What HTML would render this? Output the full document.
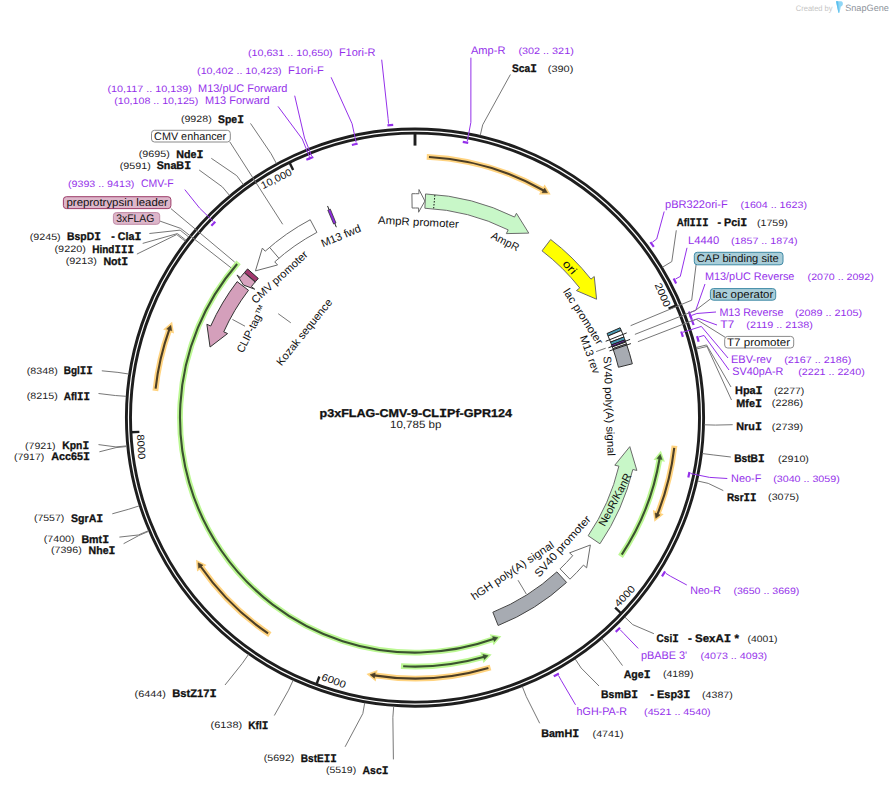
<!DOCTYPE html>
<html><head><meta charset="utf-8"><style>
html,body{margin:0;padding:0;background:#fff;}
svg{display:block;}
text{font-family:"Liberation Sans", sans-serif;text-rendering:geometricPrecision;}
.mi{font-family:"Liberation Mono", monospace;font-size:1.08em;}
</style></head><body>
<svg width="893" height="786" viewBox="0 0 893 786">
<rect width="893" height="786" fill="#fff"/>
<circle cx="415.0" cy="417.6" r="288.6" fill="none" stroke="#1e1e1e" stroke-width="2.9"/>
<circle cx="415.0" cy="417.6" r="284.5" fill="none" stroke="#1e1e1e" stroke-width="2.9"/>
<path d="M415.00,133.10 L415.00,145.60" stroke="#1e1e1e" stroke-width="2.9"/>
<path d="M676.41,305.34 L668.60,308.69" stroke="#1e1e1e" stroke-width="2.4"/>
<path d="M621.30,613.50 L615.14,607.65" stroke="#1e1e1e" stroke-width="2.4"/>
<path d="M316.40,684.47 L319.34,676.49" stroke="#1e1e1e" stroke-width="2.4"/>
<path d="M130.88,432.30 L139.37,431.86" stroke="#1e1e1e" stroke-width="2.4"/>
<path d="M289.38,162.34 L293.13,169.96" stroke="#1e1e1e" stroke-width="2.4"/>
<text transform="rotate(66.759 415.0 417.6)" x="412.50" y="145.10" text-anchor="end" font-size="10.2" fill="#111" textLength="25" lengthAdjust="spacingAndGlyphs">2000</text>
<text transform="rotate(-46.481 415.0 417.6)" x="417.50" y="696.10" text-anchor="start" font-size="10.2" fill="#111" textLength="25" lengthAdjust="spacingAndGlyphs">4000</text>
<text transform="rotate(20.278 415.0 417.6)" x="417.50" y="696.10" text-anchor="start" font-size="10.2" fill="#111" textLength="25" lengthAdjust="spacingAndGlyphs">6000</text>
<text transform="rotate(87.038 415.0 417.6)" x="417.50" y="696.10" text-anchor="start" font-size="10.2" fill="#111" textLength="25" lengthAdjust="spacingAndGlyphs">8000</text>
<text transform="rotate(333.797 415.0 417.6)" x="412.50" y="145.60" text-anchor="end" font-size="10.2" fill="#111" textLength="33" lengthAdjust="spacingAndGlyphs">10,000</text>
<path d="M411.91,193.72 A223.90,223.90 0 0 1 418.91,193.73 L418.98,189.53 L424.91,201.08 L418.58,212.23 L418.66,208.03 A209.60,209.60 0 0 0 412.11,208.02 Z" fill="#ffffff" stroke="#6b6b6b" stroke-width="1.0" stroke-linejoin="miter"/>
<path d="M425.55,193.95 A223.90,223.90 0 0 1 514.55,217.05 L516.42,213.29 L528.77,233.11 L506.33,233.62 L508.20,229.86 A209.60,209.60 0 0 0 424.87,208.23 Z" fill="#c8f7c8" stroke="#6b6b6b" stroke-width="1.0" stroke-linejoin="miter"/>
<path d="M434.86,195.08 L433.68,208.33" stroke="#111" stroke-width="1" stroke-dasharray="1.5,1.5"/>
<path d="M550.68,239.49 A223.90,223.90 0 0 1 590.95,279.14 L594.25,276.54 L596.58,299.23 L576.42,290.58 L579.72,287.98 A209.60,209.60 0 0 0 542.02,250.87 Z" fill="#ffff00" stroke="#6b6b6b" stroke-width="1.0" stroke-linejoin="miter"/>
<path d="M620.10,327.78 A223.90,223.90 0 0 1 621.25,330.48 L608.08,336.04 A209.60,209.60 0 0 0 607.00,333.52 Z" fill="#4a9ab4" stroke="#222" stroke-width="1.0"/>
<path d="M621.25,330.48 A223.90,223.90 0 0 1 623.89,337.00 L610.55,342.14 A209.60,209.60 0 0 0 608.08,336.04 Z" fill="#ffffff" stroke="#222" stroke-width="1.0"/>
<path d="M623.89,337.00 A223.90,223.90 0 0 1 624.99,339.92 L611.58,344.88 A209.60,209.60 0 0 0 610.55,342.14 Z" fill="#4a9ab4" stroke="#222" stroke-width="1.0"/>
<path d="M624.99,339.92 A223.90,223.90 0 0 1 625.80,342.12 L612.33,346.94 A209.60,209.60 0 0 0 611.58,344.88 Z" fill="#8e2be0" stroke="#222" stroke-width="1.0"/>
<path d="M625.80,342.12 A223.90,223.90 0 0 1 626.45,343.97 L612.94,348.67 A209.60,209.60 0 0 0 612.33,346.94 Z" fill="#ffffff" stroke="#222" stroke-width="1.0"/>
<path d="M626.45,343.97 A223.90,223.90 0 0 1 632.34,363.81 L618.46,367.25 A209.60,209.60 0 0 0 612.94,348.67 Z" fill="#a7abb2" stroke="#333" stroke-width="1.0"/>
<path d="M599.96,543.77 A223.90,223.90 0 0 0 632.80,469.49 L636.89,470.46 L629.80,446.64 L614.81,465.20 L618.89,466.17 A209.60,209.60 0 0 1 588.15,535.72 Z" fill="#c8f7c8" stroke="#6b6b6b" stroke-width="1.0" stroke-linejoin="miter"/>
<path d="M569.97,579.20 A223.90,223.90 0 0 0 583.47,565.08 L586.63,567.85 L590.35,545.00 L569.55,552.89 L572.71,555.66 A209.60,209.60 0 0 1 560.07,568.88 Z" fill="#ffffff" stroke="#6b6b6b" stroke-width="1.0" stroke-linejoin="miter"/>
<path d="M566.55,582.41 A223.90,223.90 0 0 1 498.15,625.49 L492.84,612.21 A209.60,209.60 0 0 0 556.87,571.89 Z" fill="#a7abb2" stroke="#444" stroke-width="1.0"/>
<path d="M310.23,219.72 A223.90,223.90 0 0 0 265.18,251.21 L262.37,248.09 L255.45,270.89 L277.56,264.96 L274.75,261.84 A209.60,209.60 0 0 1 316.92,232.36 Z" fill="#ffffff" stroke="#6b6b6b" stroke-width="1.0" stroke-linejoin="miter"/>
<path d="M269.59,247.35 L278.88,258.22" stroke="#6b6b6b" stroke-width="1"/>
<path d="M247.57,268.95 A223.90,223.90 0 0 0 244.49,272.49 L255.38,281.75 A209.60,209.60 0 0 1 258.26,278.44 Z" fill="#a3386f" stroke="#222" stroke-width="1.0"/>
<path d="M244.24,272.78 A223.90,223.90 0 0 0 240.26,277.61 L236.98,274.98 L243.50,285.05 L254.70,289.18 L251.42,286.55 A209.60,209.60 0 0 1 255.14,282.03 Z" fill="#d8a3bf" stroke="#333" stroke-width="1.0" stroke-linejoin="miter"/>
<path d="M237.13,281.61 A223.90,223.90 0 0 0 210.70,326.00 L206.86,324.28 L210.06,347.03 L227.58,333.57 L223.74,331.85 A209.60,209.60 0 0 1 248.49,290.29 Z" fill="#d49fbb" stroke="#333" stroke-width="1.0" stroke-linejoin="miter"/>
<path d="M336.33,227.21 L327.55,205.96" stroke="#222" stroke-width="1"/>
<path d="M330.35,209.13 A225.00,225.00 0 0 0 327.81,210.18 L333.62,224.01 A210.00,210.00 0 0 1 335.99,223.03 Z" fill="#8e2be0" stroke="#333" stroke-width="0.8"/>
<path d="M426.75,156.86 A261.00,261.00 0 0 1 543.33,190.33" fill="none" stroke="#ffd37f" stroke-width="5.8"/>
<path d="M544.66,187.98 L547.49,192.73 L542.00,192.68 Z" fill="#ffd37f" stroke="#ffd37f" stroke-width="3.6" stroke-linejoin="miter"/>
<path d="M428.95,156.97 A261.00,261.00 0 0 1 544.12,190.78" fill="none" stroke="#4c3e26" stroke-width="2.1"/>
<path d="M544.66,187.98 L547.49,192.73 L542.00,192.68 Z" fill="#4c3e26" stroke="#4c3e26" stroke-width="0.5"/>
<path d="M155.37,390.86 A261.00,261.00 0 0 1 169.20,329.83" fill="none" stroke="#ffd37f" stroke-width="5.8"/>
<path d="M166.66,328.92 L170.86,325.32 L171.74,330.74 Z" fill="#ffd37f" stroke="#ffd37f" stroke-width="3.6" stroke-linejoin="miter"/>
<path d="M155.61,388.67 A261.00,261.00 0 0 1 169.51,328.97" fill="none" stroke="#4c3e26" stroke-width="2.1"/>
<path d="M166.66,328.92 L170.86,325.32 L171.74,330.74 Z" fill="#4c3e26" stroke="#4c3e26" stroke-width="0.5"/>
<path d="M269.88,634.54 A261.00,261.00 0 0 1 200.81,566.74" fill="none" stroke="#ffd37f" stroke-width="5.8"/>
<path d="M198.59,568.28 L198.10,562.77 L203.02,565.20 Z" fill="#ffd37f" stroke="#ffd37f" stroke-width="3.6" stroke-linejoin="miter"/>
<path d="M268.06,633.31 A261.00,261.00 0 0 1 200.29,565.99" fill="none" stroke="#4c3e26" stroke-width="2.1"/>
<path d="M198.59,568.28 L198.10,562.77 L203.02,565.20 Z" fill="#4c3e26" stroke="#4c3e26" stroke-width="0.5"/>
<path d="M490.52,667.43 A261.00,261.00 0 0 1 374.84,675.49" fill="none" stroke="#ffd37f" stroke-width="5.8"/>
<path d="M374.43,678.16 L370.10,674.71 L375.26,672.82 Z" fill="#ffd37f" stroke="#ffd37f" stroke-width="3.6" stroke-linejoin="miter"/>
<path d="M488.41,668.06 A261.00,261.00 0 0 1 373.94,675.35" fill="none" stroke="#4c3e26" stroke-width="2.1"/>
<path d="M374.43,678.16 L370.10,674.71 L375.26,672.82 Z" fill="#4c3e26" stroke="#4c3e26" stroke-width="0.5"/>
<path d="M674.48,445.70 A261.00,261.00 0 0 1 657.59,513.90" fill="none" stroke="#ffd37f" stroke-width="5.8"/>
<path d="M660.10,514.89 L655.77,518.34 L655.08,512.90 Z" fill="#ffd37f" stroke="#ffd37f" stroke-width="3.6" stroke-linejoin="miter"/>
<path d="M674.24,447.89 A261.00,261.00 0 0 1 657.25,514.74" fill="none" stroke="#4c3e26" stroke-width="2.1"/>
<path d="M660.10,514.89 L655.77,518.34 L655.08,512.90 Z" fill="#4c3e26" stroke="#4c3e26" stroke-width="0.5"/>
<path d="M238.57,262.36 A235.00,235.00 0 0 0 493.41,639.13" fill="none" stroke="#bcf893" stroke-width="5.8"/>
<path d="M494.31,641.68 L497.92,637.49 L492.51,636.59 Z" fill="#bcf893" stroke="#bcf893" stroke-width="3.6" stroke-linejoin="miter"/>
<path d="M237.13,264.02 A235.00,235.00 0 0 0 494.18,638.86" fill="none" stroke="#3b5230" stroke-width="2.1"/>
<path d="M494.31,641.68 L497.92,637.49 L492.51,636.59 Z" fill="#3b5230" stroke="#3b5230" stroke-width="0.5"/>
<path d="M400.97,666.20 A249.00,249.00 0 0 0 483.56,656.98" fill="none" stroke="#bcf893" stroke-width="5.8"/>
<path d="M484.30,659.57 L488.16,655.61 L482.81,654.38 Z" fill="#bcf893" stroke="#bcf893" stroke-width="3.6" stroke-linejoin="miter"/>
<path d="M403.17,666.32 A249.00,249.00 0 0 0 484.39,656.74" fill="none" stroke="#3b5230" stroke-width="2.1"/>
<path d="M484.30,659.57 L488.16,655.61 L482.81,654.38 Z" fill="#3b5230" stroke="#3b5230" stroke-width="0.5"/>
<path d="M620.53,556.39 A248.00,248.00 0 0 0 659.51,459.06" fill="none" stroke="#bcf893" stroke-width="5.8"/>
<path d="M662.17,459.52 L660.27,454.32 L656.85,458.61 Z" fill="#bcf893" stroke="#bcf893" stroke-width="3.6" stroke-linejoin="miter"/>
<path d="M621.75,554.56 A248.00,248.00 0 0 0 659.65,458.21" fill="none" stroke="#3b5230" stroke-width="2.1"/>
<path d="M662.17,459.52 L660.27,454.32 L656.85,458.61 Z" fill="#3b5230" stroke="#3b5230" stroke-width="0.5"/>
<path d="M250.50,123.40 L271.12,153.78 L276.34,163.35" fill="none" stroke="#777777" stroke-width="1"/>
<path d="M211.30,158.30 L236.75,175.68 L243.21,184.45" fill="none" stroke="#777777" stroke-width="1"/>
<path d="M199.20,170.00 L222.42,186.92 L229.41,195.28" fill="none" stroke="#777777" stroke-width="1"/>
<path d="M149.40,233.50 L180.14,230.14 L188.66,236.94" fill="none" stroke="#777777" stroke-width="1"/>
<path d="M142.70,243.40 L177.43,233.58 L186.05,240.26" fill="none" stroke="#777777" stroke-width="1"/>
<path d="M136.90,254.10 L176.68,234.55 L185.33,241.19" fill="none" stroke="#777777" stroke-width="1"/>
<path d="M101.80,370.80 L117.92,372.39 L128.70,374.03" fill="none" stroke="#777777" stroke-width="1"/>
<path d="M98.50,393.50 L115.31,395.52 L126.18,396.32" fill="none" stroke="#777777" stroke-width="1"/>
<path d="M98.50,444.60 L115.93,446.92 L126.78,445.86" fill="none" stroke="#777777" stroke-width="1"/>
<path d="M99.40,451.80 L116.00,447.62 L126.85,446.53" fill="none" stroke="#777777" stroke-width="1"/>
<path d="M112.30,513.80 L128.80,509.21 L139.19,505.89" fill="none" stroke="#777777" stroke-width="1"/>
<path d="M119.40,537.10 L138.37,534.97 L148.40,530.71" fill="none" stroke="#777777" stroke-width="1"/>
<path d="M123.60,543.70 L138.64,535.61 L148.67,531.33" fill="none" stroke="#777777" stroke-width="1"/>
<path d="M225.00,685.00 L242.22,663.46 L248.48,654.54" fill="none" stroke="#777777" stroke-width="1"/>
<path d="M274.30,715.50 L288.55,690.20 L293.14,680.31" fill="none" stroke="#777777" stroke-width="1"/>
<path d="M345.10,746.80 L362.83,713.54 L364.73,702.80" fill="none" stroke="#777777" stroke-width="1"/>
<path d="M393.40,759.40 L392.87,717.28 L393.68,706.41" fill="none" stroke="#777777" stroke-width="1"/>
<path d="M510.40,74.50 L482.69,124.82 L480.23,135.44" fill="none" stroke="#777777" stroke-width="1"/>
<path d="M676.30,230.30 L671.81,261.55 L662.49,267.21" fill="none" stroke="#777777" stroke-width="1"/>
<path d="M731.00,387.00 L706.58,344.93 L696.00,347.57" fill="none" stroke="#777777" stroke-width="1"/>
<path d="M731.50,400.00 L706.96,346.46 L696.37,349.04" fill="none" stroke="#777777" stroke-width="1"/>
<path d="M732.70,424.70 L715.41,425.08 L704.51,424.81" fill="none" stroke="#777777" stroke-width="1"/>
<path d="M730.80,457.00 L713.17,454.92 L702.36,453.57" fill="none" stroke="#777777" stroke-width="1"/>
<path d="M723.30,490.60 L708.21,483.37 L697.58,480.98" fill="none" stroke="#777777" stroke-width="1"/>
<path d="M653.90,633.70 L632.79,624.65 L624.89,617.14" fill="none" stroke="#777777" stroke-width="1"/>
<path d="M622.50,665.60 L608.85,647.21 L601.82,638.89" fill="none" stroke="#777777" stroke-width="1"/>
<path d="M599.00,686.00 L581.13,668.00 L575.11,658.92" fill="none" stroke="#777777" stroke-width="1"/>
<path d="M539.70,723.30 L526.34,696.71 L522.30,686.59" fill="none" stroke="#777777" stroke-width="1"/>
<path d="M381.70,59.70 L388.08,118.31 L388.56,123.69" fill="none" stroke="#9430ea" stroke-width="1.0"/>
<path d="M387.42,125.30 A293.60,293.60 0 0 1 393.21,124.81" fill="none" stroke="#9430ea" stroke-width="2.2"/>
<path d="M331.10,77.30 L352.09,123.76 L356.11,142.53" fill="none" stroke="#9430ea" stroke-width="1.0"/>
<path d="M351.89,145.01 A279.80,279.80 0 0 1 357.62,143.75" fill="none" stroke="#9430ea" stroke-width="2.2"/>
<path d="M294.70,95.70 L304.56,138.13 L311.61,155.99" fill="none" stroke="#9430ea" stroke-width="1.0"/>
<path d="M307.71,159.19 A279.80,279.80 0 0 1 313.30,156.94" fill="none" stroke="#9430ea" stroke-width="2.2"/>
<path d="M278.00,106.40 L302.28,139.04 L309.48,156.84" fill="none" stroke="#9430ea" stroke-width="1.0"/>
<path d="M306.36,159.75 A279.80,279.80 0 0 1 311.18,157.77" fill="none" stroke="#9430ea" stroke-width="2.2"/>
<path d="M184.80,189.60 L199.58,208.09 L213.34,221.48" fill="none" stroke="#9430ea" stroke-width="1.0"/>
<path d="M211.32,225.76 A279.80,279.80 0 0 1 215.27,221.65" fill="none" stroke="#9430ea" stroke-width="2.2"/>
<path d="M470.90,57.70 L470.87,122.34 L467.30,141.20" fill="none" stroke="#9430ea" stroke-width="1.0"/>
<path d="M462.77,141.91 A279.80,279.80 0 0 1 468.22,142.91" fill="none" stroke="#9430ea" stroke-width="2.2"/>
<path d="M664.20,211.50 L656.69,239.03 L652.34,242.24" fill="none" stroke="#9430ea" stroke-width="1.0"/>
<path d="M650.37,242.10 A293.60,293.60 0 0 1 653.80,246.79" fill="none" stroke="#9430ea" stroke-width="2.2"/>
<path d="M687.00,247.80 L680.29,276.46 L675.52,279.00" fill="none" stroke="#9430ea" stroke-width="1.0"/>
<path d="M673.60,278.57 A293.60,293.60 0 0 1 676.14,283.41" fill="none" stroke="#9430ea" stroke-width="2.2"/>
<path d="M705.00,284.00 L695.72,310.38 L690.68,312.31" fill="none" stroke="#9430ea" stroke-width="1.0"/>
<path d="M688.82,311.65 A293.60,293.60 0 0 1 691.03,317.57" fill="none" stroke="#9430ea" stroke-width="2.2"/>
<path d="M716.00,312.00 L696.89,313.49 L691.82,315.37" fill="none" stroke="#9430ea" stroke-width="1.0"/>
<path d="M689.97,314.68 A293.60,293.60 0 0 1 691.78,319.66" fill="none" stroke="#9430ea" stroke-width="2.2"/>
<path d="M717.00,325.00 L698.67,318.44 L693.57,320.22" fill="none" stroke="#9430ea" stroke-width="1.0"/>
<path d="M691.73,319.51 A293.60,293.60 0 0 1 693.62,325.00" fill="none" stroke="#9430ea" stroke-width="2.2"/>
<path d="M728.00,358.00 L701.33,326.41 L683.03,332.23" fill="none" stroke="#9430ea" stroke-width="1.0"/>
<path d="M681.23,331.53 A279.80,279.80 0 0 1 682.88,336.81" fill="none" stroke="#9430ea" stroke-width="2.2"/>
<path d="M729.00,370.00 L704.06,335.46 L698.86,336.93" fill="none" stroke="#9430ea" stroke-width="1.0"/>
<path d="M697.07,336.11 A293.60,293.60 0 0 1 698.62,341.71" fill="none" stroke="#9430ea" stroke-width="2.2"/>
<path d="M727.30,478.50 L709.49,477.38 L690.68,473.56" fill="none" stroke="#9430ea" stroke-width="1.0"/>
<path d="M689.45,472.06 A279.80,279.80 0 0 1 688.32,477.48" fill="none" stroke="#9430ea" stroke-width="2.2"/>
<path d="M686.80,585.00 L670.29,576.11 L665.71,573.26" fill="none" stroke="#9430ea" stroke-width="1.0"/>
<path d="M665.10,571.38 A293.60,293.60 0 0 1 662.01,576.30" fill="none" stroke="#9430ea" stroke-width="2.2"/>
<path d="M638.20,648.40 L623.91,633.60 L620.16,629.72" fill="none" stroke="#9430ea" stroke-width="1.0"/>
<path d="M620.03,627.75 A293.60,293.60 0 0 1 615.71,631.88" fill="none" stroke="#9430ea" stroke-width="2.2"/>
<path d="M575.50,704.80 L561.10,680.19 L558.47,675.47" fill="none" stroke="#9430ea" stroke-width="1.0"/>
<path d="M558.86,673.54 A293.60,293.60 0 0 1 553.77,676.34" fill="none" stroke="#9430ea" stroke-width="2.2"/>
<path d="M229.90,142.00 L282.70,224.30" fill="none" stroke="#777777" stroke-width="1"/>
<path d="M170.90,208.60 L234.70,262.10" fill="none" stroke="#777777" stroke-width="1"/>
<path d="M159.70,221.00 L180.70,228.40 L231.20,267.90" fill="none" stroke="#777777" stroke-width="1"/>
<path d="M696.10,264.60 L691.70,300.20 L630.60,325.70" fill="none" stroke="#777777" stroke-width="1"/>
<path d="M710.60,298.80 L695.40,310.40 L634.90,334.40" fill="none" stroke="#777777" stroke-width="1"/>
<path d="M725.20,337.30 L696.10,319.20 L637.90,341.70" fill="none" stroke="#777777" stroke-width="1"/>
<path d="M605.70,341.30 L626.70,332.90" fill="none" stroke="#222" stroke-width="1"/>
<path d="M608.40,347.80 L630.10,339.40" fill="none" stroke="#222" stroke-width="1"/>
<path d="M609.50,350.90 L630.90,343.60" fill="none" stroke="#222" stroke-width="1"/>
<path d="M596.10,351.60 L605.70,348.20" fill="none" stroke="#777777" stroke-width="1"/>
<text x="247.90" y="56.20" font-size="9.2" font-weight="normal" fill="#9430ea" textLength="84.80" lengthAdjust="spacingAndGlyphs">(10,631 .. 10,650)</text>
<text x="338.90" y="56.20" font-size="11" font-weight="normal" fill="#9430ea" textLength="36.60" lengthAdjust="spacingAndGlyphs">F1ori-R</text>
<text x="197.10" y="73.80" font-size="9.2" font-weight="normal" fill="#9430ea" textLength="84.60" lengthAdjust="spacingAndGlyphs">(10,402 .. 10,423)</text>
<text x="287.90" y="73.80" font-size="11" font-weight="normal" fill="#9430ea" textLength="35.80" lengthAdjust="spacingAndGlyphs">F1ori-F</text>
<text x="107.40" y="91.80" font-size="9.2" font-weight="normal" fill="#9430ea" textLength="84.40" lengthAdjust="spacingAndGlyphs">(10,117 .. 10,139)</text>
<text x="198.10" y="91.80" font-size="11" font-weight="normal" fill="#9430ea" textLength="89.30" lengthAdjust="spacingAndGlyphs">M13/pUC Forward</text>
<text x="114.20" y="104.10" font-size="9.2" font-weight="normal" fill="#9430ea" textLength="84.10" lengthAdjust="spacingAndGlyphs">(10,108 .. 10,125)</text>
<text x="204.90" y="104.10" font-size="11" font-weight="normal" fill="#9430ea" textLength="64.60" lengthAdjust="spacingAndGlyphs">M13 Forward</text>
<text x="180.90" y="121.90" font-size="9.2" font-weight="normal" fill="#222" textLength="30.80" lengthAdjust="spacingAndGlyphs">(9928)</text>
<text x="218.10" y="122.50" font-size="11" font-weight="bold" fill="#111" stroke="#111" stroke-width="0.3" textLength="25.80" lengthAdjust="spacingAndGlyphs">Spe<tspan class="mi">I</tspan></text>
<text x="138.80" y="157.00" font-size="9.2" font-weight="normal" fill="#222" textLength="31.00" lengthAdjust="spacingAndGlyphs">(9695)</text>
<text x="176.20" y="157.60" font-size="11" font-weight="bold" fill="#111" stroke="#111" stroke-width="0.3" textLength="27.20" lengthAdjust="spacingAndGlyphs">Nde<tspan class="mi">I</tspan></text>
<text x="119.80" y="168.80" font-size="9.2" font-weight="normal" fill="#222" textLength="31.00" lengthAdjust="spacingAndGlyphs">(9591)</text>
<text x="156.70" y="169.40" font-size="11" font-weight="bold" fill="#111" stroke="#111" stroke-width="0.3" textLength="34.40" lengthAdjust="spacingAndGlyphs">SnaB<tspan class="mi">I</tspan></text>
<text x="68.00" y="187.30" font-size="9.2" font-weight="normal" fill="#9430ea" textLength="66.40" lengthAdjust="spacingAndGlyphs">(9393 .. 9413)</text>
<text x="141.00" y="187.30" font-size="11" font-weight="normal" fill="#9430ea" textLength="32.60" lengthAdjust="spacingAndGlyphs">CMV-F</text>
<text x="29.70" y="239.80" font-size="9.2" font-weight="normal" fill="#222" textLength="31.00" lengthAdjust="spacingAndGlyphs">(9245)</text>
<text x="67.10" y="240.40" font-size="11" font-weight="bold" fill="#111" stroke="#111" stroke-width="0.3" textLength="33.80" lengthAdjust="spacingAndGlyphs">BspD<tspan class="mi">I</tspan></text>
<text x="111.30" y="240.40" font-size="11" font-weight="bold" fill="#111" stroke="#111" stroke-width="0.3" textLength="30.10" lengthAdjust="spacingAndGlyphs">- Cla<tspan class="mi">I</tspan></text>
<text x="54.50" y="252.30" font-size="9.2" font-weight="normal" fill="#222" textLength="31.30" lengthAdjust="spacingAndGlyphs">(9220)</text>
<text x="92.20" y="252.90" font-size="11" font-weight="bold" fill="#111" stroke="#111" stroke-width="0.3" textLength="41.70" lengthAdjust="spacingAndGlyphs">Hind<tspan class="mi">I</tspan><tspan class="mi">I</tspan><tspan class="mi">I</tspan></text>
<text x="65.70" y="264.10" font-size="9.2" font-weight="normal" fill="#222" textLength="31.30" lengthAdjust="spacingAndGlyphs">(9213)</text>
<text x="103.40" y="264.70" font-size="11" font-weight="bold" fill="#111" stroke="#111" stroke-width="0.3" textLength="24.70" lengthAdjust="spacingAndGlyphs">Not<tspan class="mi">I</tspan></text>
<text x="26.80" y="373.80" font-size="9.2" font-weight="normal" fill="#222" textLength="30.90" lengthAdjust="spacingAndGlyphs">(8348)</text>
<text x="63.70" y="374.40" font-size="11" font-weight="bold" fill="#111" stroke="#111" stroke-width="0.3" textLength="29.00" lengthAdjust="spacingAndGlyphs">Bgl<tspan class="mi">I</tspan><tspan class="mi">I</tspan></text>
<text x="26.80" y="398.90" font-size="9.2" font-weight="normal" fill="#222" textLength="30.90" lengthAdjust="spacingAndGlyphs">(8215)</text>
<text x="63.70" y="399.50" font-size="11" font-weight="bold" fill="#111" stroke="#111" stroke-width="0.3" textLength="26.30" lengthAdjust="spacingAndGlyphs">Afl<tspan class="mi">I</tspan><tspan class="mi">I</tspan></text>
<text x="25.00" y="448.50" font-size="9.2" font-weight="normal" fill="#222" textLength="30.60" lengthAdjust="spacingAndGlyphs">(7921)</text>
<text x="62.30" y="449.10" font-size="11" font-weight="bold" fill="#111" stroke="#111" stroke-width="0.3" textLength="26.80" lengthAdjust="spacingAndGlyphs">Kpn<tspan class="mi">I</tspan></text>
<text x="13.90" y="459.80" font-size="9.2" font-weight="normal" fill="#222" textLength="30.40" lengthAdjust="spacingAndGlyphs">(7917)</text>
<text x="51.20" y="460.40" font-size="11" font-weight="bold" fill="#111" stroke="#111" stroke-width="0.3" textLength="38.80" lengthAdjust="spacingAndGlyphs">Acc65<tspan class="mi">I</tspan></text>
<text x="33.90" y="521.00" font-size="9.2" font-weight="normal" fill="#222" textLength="30.40" lengthAdjust="spacingAndGlyphs">(7557)</text>
<text x="71.00" y="521.60" font-size="11" font-weight="bold" fill="#111" stroke="#111" stroke-width="0.3" textLength="32.20" lengthAdjust="spacingAndGlyphs">SgrA<tspan class="mi">I</tspan></text>
<text x="43.80" y="542.00" font-size="9.2" font-weight="normal" fill="#222" textLength="30.70" lengthAdjust="spacingAndGlyphs">(7400)</text>
<text x="81.40" y="542.60" font-size="11" font-weight="bold" fill="#111" stroke="#111" stroke-width="0.3" textLength="27.70" lengthAdjust="spacingAndGlyphs">Bmt<tspan class="mi">I</tspan></text>
<text x="51.00" y="553.20" font-size="9.2" font-weight="normal" fill="#222" textLength="30.70" lengthAdjust="spacingAndGlyphs">(7396)</text>
<text x="88.60" y="553.80" font-size="11" font-weight="bold" fill="#111" stroke="#111" stroke-width="0.3" textLength="26.80" lengthAdjust="spacingAndGlyphs">Nhe<tspan class="mi">I</tspan></text>
<text x="134.60" y="696.70" font-size="9.2" font-weight="normal" fill="#222" textLength="31.30" lengthAdjust="spacingAndGlyphs">(6444)</text>
<text x="172.30" y="697.30" font-size="11" font-weight="bold" fill="#111" stroke="#111" stroke-width="0.3" textLength="44.40" lengthAdjust="spacingAndGlyphs">BstZ17<tspan class="mi">I</tspan></text>
<text x="210.50" y="728.00" font-size="9.2" font-weight="normal" fill="#222" textLength="31.60" lengthAdjust="spacingAndGlyphs">(6138)</text>
<text x="248.20" y="728.60" font-size="11" font-weight="bold" fill="#111" stroke="#111" stroke-width="0.3" textLength="20.20" lengthAdjust="spacingAndGlyphs">Kfl<tspan class="mi">I</tspan></text>
<text x="263.80" y="760.90" font-size="9.2" font-weight="normal" fill="#222" textLength="30.60" lengthAdjust="spacingAndGlyphs">(5692)</text>
<text x="300.80" y="761.50" font-size="11" font-weight="bold" fill="#111" stroke="#111" stroke-width="0.3" textLength="36.00" lengthAdjust="spacingAndGlyphs">BstE<tspan class="mi">I</tspan><tspan class="mi">I</tspan></text>
<text x="325.90" y="772.90" font-size="9.2" font-weight="normal" fill="#222" textLength="30.30" lengthAdjust="spacingAndGlyphs">(5519)</text>
<text x="362.60" y="773.50" font-size="11" font-weight="bold" fill="#111" stroke="#111" stroke-width="0.3" textLength="25.90" lengthAdjust="spacingAndGlyphs">Asc<tspan class="mi">I</tspan></text>
<text x="471.00" y="53.80" font-size="11" font-weight="normal" fill="#9430ea" textLength="34.40" lengthAdjust="spacingAndGlyphs">Amp-R</text>
<text x="518.40" y="53.80" font-size="9.2" font-weight="normal" fill="#9430ea" textLength="55.40" lengthAdjust="spacingAndGlyphs">(302 .. 321)</text>
<text x="512.00" y="72.20" font-size="11" font-weight="bold" fill="#111" stroke="#111" stroke-width="0.3" textLength="24.80" lengthAdjust="spacingAndGlyphs">Sca<tspan class="mi">I</tspan></text>
<text x="547.80" y="71.60" font-size="9.2" font-weight="normal" fill="#222" textLength="25.50" lengthAdjust="spacingAndGlyphs">(390)</text>
<text x="665.10" y="207.50" font-size="11" font-weight="normal" fill="#9430ea" textLength="62.60" lengthAdjust="spacingAndGlyphs">pBR322ori-F</text>
<text x="740.40" y="207.50" font-size="9.2" font-weight="normal" fill="#9430ea" textLength="66.60" lengthAdjust="spacingAndGlyphs">(1604 .. 1623)</text>
<text x="676.70" y="226.30" font-size="11" font-weight="bold" fill="#111" stroke="#111" stroke-width="0.3" textLength="31.70" lengthAdjust="spacingAndGlyphs">Afl<tspan class="mi">I</tspan><tspan class="mi">I</tspan><tspan class="mi">I</tspan></text>
<text x="717.50" y="226.30" font-size="11" font-weight="bold" fill="#111" stroke="#111" stroke-width="0.3" textLength="29.60" lengthAdjust="spacingAndGlyphs">- Pci<tspan class="mi">I</tspan></text>
<text x="757.00" y="225.70" font-size="9.2" font-weight="normal" fill="#222" textLength="30.70" lengthAdjust="spacingAndGlyphs">(1759)</text>
<text x="688.00" y="243.70" font-size="11" font-weight="normal" fill="#9430ea" textLength="31.10" lengthAdjust="spacingAndGlyphs">L4440</text>
<text x="731.00" y="243.70" font-size="9.2" font-weight="normal" fill="#9430ea" textLength="66.60" lengthAdjust="spacingAndGlyphs">(1857 .. 1874)</text>
<text x="704.90" y="279.50" font-size="11" font-weight="normal" fill="#9430ea" textLength="89.50" lengthAdjust="spacingAndGlyphs">M13/pUC Reverse</text>
<text x="807.60" y="279.50" font-size="9.2" font-weight="normal" fill="#9430ea" textLength="66.10" lengthAdjust="spacingAndGlyphs">(2070 .. 2092)</text>
<text x="719.40" y="315.50" font-size="11" font-weight="normal" fill="#9430ea" textLength="64.00" lengthAdjust="spacingAndGlyphs">M13 Reverse</text>
<text x="794.90" y="315.50" font-size="9.2" font-weight="normal" fill="#9430ea" textLength="67.20" lengthAdjust="spacingAndGlyphs">(2089 .. 2105)</text>
<text x="720.20" y="327.80" font-size="11" font-weight="normal" fill="#9430ea" textLength="14.20" lengthAdjust="spacingAndGlyphs">T7</text>
<text x="746.30" y="327.80" font-size="9.2" font-weight="normal" fill="#9430ea" textLength="66.60" lengthAdjust="spacingAndGlyphs">(2119 .. 2138)</text>
<text x="731.00" y="363.30" font-size="11" font-weight="normal" fill="#9430ea" textLength="40.50" lengthAdjust="spacingAndGlyphs">EBV-rev</text>
<text x="784.20" y="363.30" font-size="9.2" font-weight="normal" fill="#9430ea" textLength="67.20" lengthAdjust="spacingAndGlyphs">(2167 .. 2186)</text>
<text x="732.30" y="375.40" font-size="11" font-weight="normal" fill="#9430ea" textLength="51.10" lengthAdjust="spacingAndGlyphs">SV40pA-R</text>
<text x="798.20" y="375.40" font-size="9.2" font-weight="normal" fill="#9430ea" textLength="66.60" lengthAdjust="spacingAndGlyphs">(2221 .. 2240)</text>
<text x="735.00" y="394.40" font-size="11" font-weight="bold" fill="#111" stroke="#111" stroke-width="0.3" textLength="27.70" lengthAdjust="spacingAndGlyphs">Hpa<tspan class="mi">I</tspan></text>
<text x="774.00" y="393.80" font-size="9.2" font-weight="normal" fill="#222" textLength="30.30" lengthAdjust="spacingAndGlyphs">(2277)</text>
<text x="736.30" y="406.50" font-size="11" font-weight="bold" fill="#111" stroke="#111" stroke-width="0.3" textLength="25.60" lengthAdjust="spacingAndGlyphs">Mfe<tspan class="mi">I</tspan></text>
<text x="771.80" y="405.90" font-size="9.2" font-weight="normal" fill="#222" textLength="31.20" lengthAdjust="spacingAndGlyphs">(2286)</text>
<text x="736.30" y="430.20" font-size="11" font-weight="bold" fill="#111" stroke="#111" stroke-width="0.3" textLength="25.60" lengthAdjust="spacingAndGlyphs">Nru<tspan class="mi">I</tspan></text>
<text x="771.80" y="429.60" font-size="9.2" font-weight="normal" fill="#222" textLength="31.20" lengthAdjust="spacingAndGlyphs">(2739)</text>
<text x="734.20" y="462.40" font-size="11" font-weight="bold" fill="#111" stroke="#111" stroke-width="0.3" textLength="30.40" lengthAdjust="spacingAndGlyphs">BstB<tspan class="mi">I</tspan></text>
<text x="778.00" y="461.80" font-size="9.2" font-weight="normal" fill="#222" textLength="30.90" lengthAdjust="spacingAndGlyphs">(2910)</text>
<text x="731.00" y="482.00" font-size="11" font-weight="normal" fill="#9430ea" textLength="30.30" lengthAdjust="spacingAndGlyphs">Neo-F</text>
<text x="773.20" y="482.00" font-size="9.2" font-weight="normal" fill="#9430ea" textLength="66.60" lengthAdjust="spacingAndGlyphs">(3040 .. 3059)</text>
<text x="726.90" y="500.60" font-size="11" font-weight="bold" fill="#111" stroke="#111" stroke-width="0.3" textLength="29.60" lengthAdjust="spacingAndGlyphs">Rsr<tspan class="mi">I</tspan><tspan class="mi">I</tspan></text>
<text x="768.10" y="500.00" font-size="9.2" font-weight="normal" fill="#222" textLength="30.90" lengthAdjust="spacingAndGlyphs">(3075)</text>
<text x="690.20" y="593.50" font-size="11" font-weight="normal" fill="#9430ea" textLength="30.90" lengthAdjust="spacingAndGlyphs">Neo-R</text>
<text x="733.40" y="593.50" font-size="9.2" font-weight="normal" fill="#9430ea" textLength="66.00" lengthAdjust="spacingAndGlyphs">(3650 .. 3669)</text>
<text x="656.60" y="642.10" font-size="11" font-weight="bold" fill="#111" stroke="#111" stroke-width="0.3" textLength="22.10" lengthAdjust="spacingAndGlyphs">Csi<tspan class="mi">I</tspan></text>
<text x="688.00" y="642.10" font-size="11" font-weight="bold" fill="#111" stroke="#111" stroke-width="0.3" textLength="50.90" lengthAdjust="spacingAndGlyphs">- SexA<tspan class="mi">I</tspan> *</text>
<text x="747.50" y="641.50" font-size="9.2" font-weight="normal" fill="#222" textLength="30.00" lengthAdjust="spacingAndGlyphs">(4001)</text>
<text x="640.90" y="659.40" font-size="11" font-weight="normal" fill="#9430ea" textLength="46.30" lengthAdjust="spacingAndGlyphs">pBABE 3&#39;</text>
<text x="700.50" y="659.40" font-size="9.2" font-weight="normal" fill="#9430ea" textLength="66.70" lengthAdjust="spacingAndGlyphs">(4073 .. 4093)</text>
<text x="623.70" y="677.80" font-size="11" font-weight="bold" fill="#111" stroke="#111" stroke-width="0.3" textLength="26.80" lengthAdjust="spacingAndGlyphs">Age<tspan class="mi">I</tspan></text>
<text x="662.90" y="677.20" font-size="9.2" font-weight="normal" fill="#222" textLength="30.60" lengthAdjust="spacingAndGlyphs">(4189)</text>
<text x="601.10" y="698.20" font-size="11" font-weight="bold" fill="#111" stroke="#111" stroke-width="0.3" textLength="36.90" lengthAdjust="spacingAndGlyphs">BsmB<tspan class="mi">I</tspan></text>
<text x="650.30" y="698.20" font-size="11" font-weight="bold" fill="#111" stroke="#111" stroke-width="0.3" textLength="40.00" lengthAdjust="spacingAndGlyphs">- Esp3<tspan class="mi">I</tspan></text>
<text x="702.10" y="697.60" font-size="9.2" font-weight="normal" fill="#222" textLength="30.60" lengthAdjust="spacingAndGlyphs">(4387)</text>
<text x="576.60" y="714.90" font-size="11" font-weight="normal" fill="#9430ea" textLength="50.40" lengthAdjust="spacingAndGlyphs">hGH-PA-R</text>
<text x="644.10" y="714.90" font-size="9.2" font-weight="normal" fill="#9430ea" textLength="66.60" lengthAdjust="spacingAndGlyphs">(4521 .. 4540)</text>
<text x="541.20" y="737.30" font-size="11" font-weight="bold" fill="#111" stroke="#111" stroke-width="0.3" textLength="37.90" lengthAdjust="spacingAndGlyphs">BamH<tspan class="mi">I</tspan></text>
<text x="592.60" y="736.70" font-size="9.2" font-weight="normal" fill="#222" textLength="30.90" lengthAdjust="spacingAndGlyphs">(4741)</text>
<text x="319.50" y="416.60" font-size="11.3" font-weight="bold" fill="#111" stroke="#111" stroke-width="0.3" textLength="192.50" lengthAdjust="spacingAndGlyphs">p3xFLAG-CMV-9-CL<tspan class="mi">I</tspan>Pf-GPR124</text>
<text x="390.00" y="427.90" font-size="10.5" font-weight="normal" fill="#222" textLength="51.40" lengthAdjust="spacingAndGlyphs">10,785 bp</text>
<rect x="151.50" y="130.30" width="78.80" height="11.70" rx="3" ry="3" fill="#ffffff" stroke="#8a8a8a" stroke-width="1"/>
<text x="154.10" y="139.70" font-size="11" fill="#111" textLength="72.10" lengthAdjust="spacingAndGlyphs">CMV enhancer</text>
<rect x="63.40" y="196.70" width="107.50" height="11.90" rx="3" ry="3" fill="#ddb6ca" stroke="#9c3c68" stroke-width="1"/>
<text x="66.50" y="205.90" font-size="11" fill="#111" textLength="101.40" lengthAdjust="spacingAndGlyphs">preprotrypsin leader</text>
<rect x="113.40" y="212.60" width="46.30" height="11.70" rx="3" ry="3" fill="#ddb6ca" stroke="#c08aa6" stroke-width="1"/>
<text x="116.20" y="221.60" font-size="11" fill="#111" textLength="38.20" lengthAdjust="spacingAndGlyphs">3xFLAG</text>
<rect x="694.30" y="252.30" width="88.70" height="12.50" rx="3" ry="3" fill="#a9cdd8" stroke="#3f8aa6" stroke-width="1"/>
<text x="696.70" y="262.00" font-size="11" fill="#111" textLength="82.00" lengthAdjust="spacingAndGlyphs">CAP binding site</text>
<rect x="710.40" y="288.60" width="65.30" height="11.60" rx="3" ry="3" fill="#a9cdd8" stroke="#3f8aa6" stroke-width="1"/>
<text x="712.80" y="297.50" font-size="11" fill="#111" textLength="60.50" lengthAdjust="spacingAndGlyphs">lac operator</text>
<rect x="724.70" y="336.40" width="69.00" height="11.60" rx="3" ry="3" fill="#ffffff" stroke="#8a8a8a" stroke-width="1"/>
<text x="727.00" y="345.80" font-size="11" fill="#111" textLength="63.00" lengthAdjust="spacingAndGlyphs">T7 promoter</text>
<text transform="translate(418.40 221.80) rotate(3.00)" x="0" y="3.96" text-anchor="middle" font-size="11" fill="#111" textLength="81.00" lengthAdjust="spacingAndGlyphs">AmpR promoter</text>
<text transform="translate(505.30 241.20) rotate(27.00)" x="0" y="3.96" text-anchor="middle" font-size="11" fill="#111" textLength="30.00" lengthAdjust="spacingAndGlyphs">AmpR</text>
<text transform="translate(340.80 235.60) rotate(-22.50)" x="0" y="3.96" text-anchor="middle" font-size="11" fill="#111" textLength="42.00" lengthAdjust="spacingAndGlyphs">M13 fwd</text>
<text transform="translate(570.00 267.00) rotate(49.00)" x="0" y="3.96" text-anchor="middle" font-size="11" fill="#111" textLength="15.00" lengthAdjust="spacingAndGlyphs">ori</text>
<text transform="translate(583.40 316.40) rotate(57.40)" x="0" y="3.96" text-anchor="middle" font-size="11" fill="#111" textLength="64.00" lengthAdjust="spacingAndGlyphs">lac promoter</text>
<text transform="translate(590.20 354.40) rotate(70.00)" x="0" y="3.96" text-anchor="middle" font-size="11" fill="#111" textLength="40.00" lengthAdjust="spacingAndGlyphs">M13 rev</text>
<text transform="translate(609.50 406.00) rotate(87.70)" x="0" y="3.96" text-anchor="middle" font-size="11" fill="#111" textLength="100.00" lengthAdjust="spacingAndGlyphs">SV40 poly(A) signal</text>
<text transform="translate(614.70 499.60) rotate(-62.30)" x="0" y="3.96" text-anchor="middle" font-size="11" fill="#111" textLength="58.00" lengthAdjust="spacingAndGlyphs">NeoR/KanR</text>
<text transform="translate(562.30 546.00) rotate(-48.20)" x="0" y="3.96" text-anchor="middle" font-size="11" fill="#111" textLength="78.00" lengthAdjust="spacingAndGlyphs">SV40 promoter</text>
<text transform="translate(512.40 570.40) rotate(-33.70)" x="0" y="3.96" text-anchor="middle" font-size="11" fill="#111" textLength="97.00" lengthAdjust="spacingAndGlyphs">hGH poly(A) signal</text>
<text transform="translate(279.30 277.00) rotate(-42.50)" x="0" y="3.96" text-anchor="middle" font-size="11" fill="#111" textLength="72.00" lengthAdjust="spacingAndGlyphs">CMV promoter</text>
<text transform="translate(251.00 328.50) rotate(-63.40)" x="0" y="3.96" text-anchor="middle" font-size="11" fill="#111" textLength="52.00" lengthAdjust="spacingAndGlyphs">CLIP-tag™</text>
<text transform="translate(304.00 332.00) rotate(-51.20)" x="0" y="3.96" text-anchor="middle" font-size="11" fill="#111" textLength="82.00" lengthAdjust="spacingAndGlyphs">Kozak sequence</text>
<path d="M278.20,313.70 L290.80,322.80" fill="none" stroke="#777777" stroke-width="1"/>
<path d="M232.40,319.40 L245.00,326.20" fill="none" stroke="#777777" stroke-width="1"/>
<path d="M518.00,580.20 L526.40,594.20" fill="none" stroke="#777777" stroke-width="1"/>
<text x="795.8" y="10.8" font-size="8" fill="#c4c4c4" textLength="36.7" lengthAdjust="spacingAndGlyphs">Created by</text>
<path d="M836,1.3 L841,1.3 C843.6,1.5 843.6,6.2 840.8,6.6 L839.6,12.7 L838.4,12.7 Z" fill="#8fd6f5"/>
<path d="M836,1.3 L838.2,1.3 L838.9,12.7 L838.4,12.7 Z" fill="#5cc0ee"/>
<text x="845.2" y="10.8" font-size="9.2" fill="#8d939b" textLength="43.7" lengthAdjust="spacingAndGlyphs">SnapGene</text>
</svg>
</body></html>
